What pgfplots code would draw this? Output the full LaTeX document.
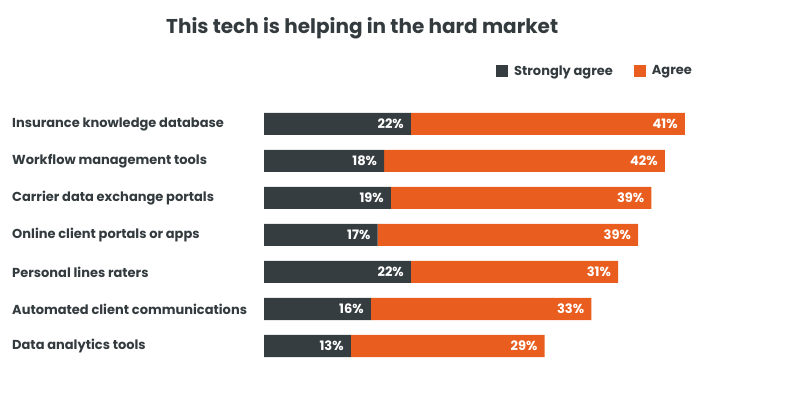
\documentclass[border=0pt]{standalone}
\usepackage{pgfplots}
\pgfplotsset{compat=1.18}
\usepackage{fontspec}
\setmainfont{Poppins}
\definecolor{darkbar}{HTML}{363D40}
\definecolor{orangebar}{HTML}{E95E1E}
\definecolor{txt}{HTML}{333B3F}
\begin{document}
\begin{tikzpicture}
\path[use as bounding box] (0,0) rectangle (785bp,397bp);
\begin{axis}[
  at={(264bp,32.5bp)}, anchor=south west,
  scale only axis, width=501bp, height=259bp,
  xbar stacked, bar width=22bp,
  xmin=0, xmax=75, ymin=-0.5, ymax=6.5,
  axis line style={draw=none}, major tick length=0pt,
  xtick=\empty,
  ytick={0,1,2,3,4,5,6},
  yticklabels={Data analytics tools, Automated client communications, Personal lines raters, Online client portals or apps, Carrier data exchange portals, Workflow management tools, Insurance knowledge database},
  yticklabel style={anchor=west, inner sep=0pt, xshift=-252bp, font=\fontsize{13bp}{15bp}\selectfont\bfseries, text=txt},
  /pgf/number format/assume math mode=true,
  point meta=explicit,
  visualization depends on={rawx \as \rawx},
  nodes near coords={\pgfmathprintnumber{\pgfplotspointmeta}\%},
  nodes near coords align={anchor=east},
  every node near coord/.append style={font=\fontsize{13bp}{15bp}\selectfont\bfseries, text=white, anchor=east, xshift={\rawx*3.34bp-7bp}, inner sep=0pt},
  title={This tech is helping in the hard market},
  title style={at={(axis description cs:0.196,1.276)}, anchor=center, font=\fontsize{20bp}{24bp}\selectfont\bfseries, text=txt},
  legend style={at={(axis description cs:0.457,1.133)}, anchor=west, draw=none, fill=none, legend columns=-1, font=\fontsize{13bp}{15bp}\selectfont\bfseries, text=txt, /tikz/every even column/.append style={column sep=19bp}},
  legend image code/.code={\fill[#1] (0bp,-6bp) rectangle (12bp,6bp); \path (16bp,0bp);},
]
\addplot[fill=darkbar, draw=none] coordinates {(13,0) [13] (16,1) [16] (22,2) [22] (17,3) [17] (19,4) [19] (18,5) [18] (22,6) [22]};
\addplot[fill=orangebar, draw=none] coordinates {(29,0) [29] (33,1) [33] (31,2) [31] (39,3) [39] (39,4) [39] (42,5) [42] (41,6) [41]};
\legend{Strongly agree, Agree}
\end{axis}
\end{tikzpicture}
\end{document}
